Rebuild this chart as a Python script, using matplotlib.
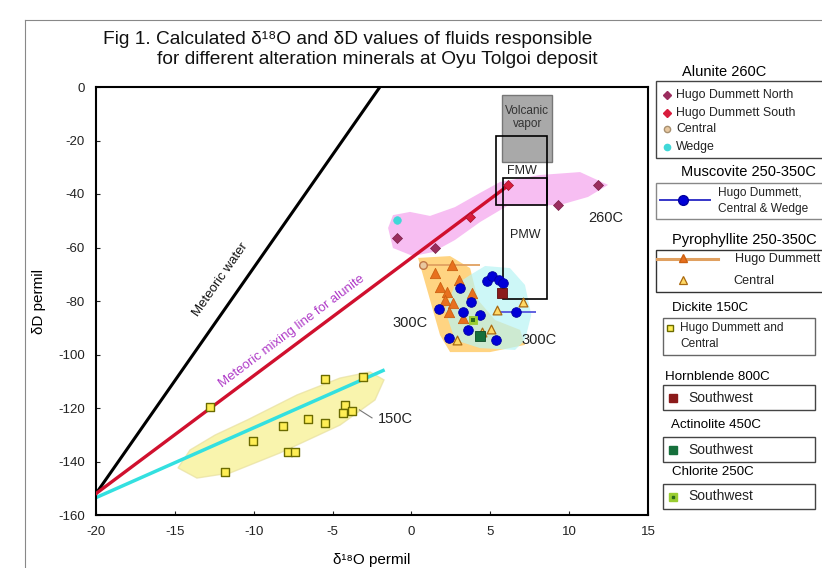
import matplotlib
matplotlib.use("Agg")
import matplotlib.pyplot as plt
from matplotlib.patches import Polygon, Rectangle

plt.rcParams['font.family'] = ['Liberation Sans', 'DejaVu Sans']
plt.rcParams['axes.unicode_minus'] = False

# ---------------- data ----------------
xlim = (-20, 15)
ylim = (-160, 0)
xticks = [-20, -15, -10, -5, 0, 5, 10, 15]
yticks = [0, -20, -40, -60, -80, -100, -120, -140, -160]

mwl_x = [-20, -2.0]
mwl_y = [-152, 0]
mix_x = [-20, 6.1]
mix_y = [-152, -37]
cyan_x = [-20, -1.8]
cyan_y = [-153.5, -106]

# fields
alunite_field_x = [-1.48, -1.17, -0.09, 1.18, 2.76, 4.35, 5.62, 8.15, 10.69, 12.47, 11.2, 9.42, 6.06, 4.35, 2.76, 1.37, 0.10, -1.17]
alunite_field_y = [-52.7, -47.9, -46.7, -48.2, -44.9, -39.6, -35.5, -32.9, -31.8, -36.6, -41.1, -44.1, -44.5, -50.5, -57.2, -61.7, -63.2, -60.2]
dickite_field_x = [-14.8, -14.04, -12.45, -10.42, -7.25, -4.53, -2.63, -1.74, -2.31, -4.53, -8.33, -11.5, -13.6]
dickite_field_y = [-142.4, -135.7, -130.1, -124.5, -115.1, -108.8, -106.5, -109.5, -117.0, -126.4, -136.8, -144.3, -146.2]
pyro_field_x = [0.42, 2.45, 3.72, 4.22, 5.30, 6.89, 7.20, 4.98, 2.45, 1.81, 1.18]
pyro_field_y = [-63.9, -63.2, -67.7, -79.6, -87.1, -90.8, -96.4, -99.1, -99.1, -92.7, -79.6]
musc_field_x = [3.72, 4.67, 6.25, 7.20, 7.6, 7.2, 6.57, 4.35, 2.76, 2.13, 2.76]
musc_field_y = [-70.3, -66.9, -67.7, -74.0, -85.2, -94.6, -98.3, -97.6, -94.6, -83.4, -74.0]

# boxes: (x0, x1, y0, y1)
vapor_box = (5.75, 8.9, -3, -28)
fmw_box = (5.36, 8.6, -18.3, -44.1)
pmw_box = (5.81, 8.6, -34.0, -79.3)

# alunite points
al_north_x = [-0.91, 1.5, 9.3, 11.83]
al_north_y = [-56.4, -60.2, -44.1, -36.6]
al_south_x = [3.72, 6.13]
al_south_y = [-48.6, -36.6]
al_central_x = [0.74]
al_central_y = [-66.5]
al_wedge_x = [-0.91]
al_wedge_y = [-49.7]

# muscovite
musc_x = [4.79, 5.11, 5.55, 5.81, 3.08, 1.75, 3.27, 3.78, 4.35, 6.63, 3.59, 2.38, 5.36]
musc_y = [-72.5, -70.7, -72.1, -73.3, -75.1, -83.0, -84.1, -80.4, -85.2, -84.1, -90.8, -93.8, -94.6]
musc_err_x = [6.63]
musc_err_y = [-84.1]
musc_err = [1.3]

# pyrophyllite
pyro_hd_x = [1.5, 2.57, 1.81, 2.26, 3.02, 2.64, 3.84, 2.38, 2.1, 3.3]
pyro_hd_y = [-69.5, -66.5, -74.8, -76.6, -72.1, -80.7, -77.0, -84.1, -79.6, -86.5]
pyro_err_x = [2.57]
pyro_err_y = [-66.5]
pyro_err = [1.8]
pyro_c_x = [5.05, 5.43, 7.08, 2.89, 4.5]
pyro_c_y = [-90.5, -83.4, -80.4, -94.6, -91.5]

# dickite
dick_x = [-12.77, -5.48, -3.07, -4.21, -4.34, -3.77, -6.56, -5.48, -8.14, -10.04, -7.83, -7.4, -11.8]
dick_y = [-119.6, -109.2, -108.4, -118.9, -121.9, -121.1, -124.1, -125.6, -126.7, -132.3, -136.4, -136.4, -143.9]

# others
horn_x = [5.75]
horn_y = [-77.0]
act_x = [4.35]
act_y = [-93.1]
chl_x = [3.9]
chl_y = [-87.1]

# ---------------- figure ----------------
fig = plt.figure(figsize=(8.22, 5.68), dpi=100)
bg = fig.add_axes([0, 0, 1, 1])
bg.set_xlim(0, 822)
bg.set_ylim(568, 0)
bg.axis('off')

# outer frame lines
bg.plot([25, 822], [20, 20], color='#888888', lw=0.8)
bg.plot([25, 25], [20, 568], color='#888888', lw=0.8)

ax = fig.add_axes([96/822, 1-515/568, (648-96)/822, (515-87)/568])
ax.set_xlim(*xlim)
ax.set_ylim(*ylim)
ax.set_xticks(xticks)
ax.set_yticks(yticks)
ax.tick_params(direction='in', labelsize=9.5, length=3, colors='#222222', pad=8)
for s in ax.spines.values():
    s.set_linewidth(1.5)
ax.set_xlabel('δ¹⁸O permil', fontsize=11, labelpad=11)
ax.set_ylabel('δD permil', fontsize=11, labelpad=9)

# fields
ax.add_patch(Polygon(list(zip(alunite_field_x, alunite_field_y)), closed=True, fc='#f5a8ee', ec='none', alpha=0.75, zorder=1))
ax.add_patch(Polygon(list(zip(dickite_field_x, dickite_field_y)), closed=True, fc='#f7f08a', ec='#e8e0a0', alpha=0.7, zorder=1))
ax.add_patch(Polygon(list(zip(pyro_field_x, pyro_field_y)), closed=True, fc='#ffc24d', ec='none', alpha=0.7, zorder=1))
ax.add_patch(Polygon(list(zip(musc_field_x, musc_field_y)), closed=True, fc='#b8f4f4', ec='none', alpha=0.7, zorder=1.1))

# boxes
x0, x1, y0, y1 = vapor_box
ax.add_patch(Rectangle((x0, y1), x1-x0, y0-y1, fc='#a9a9a9', ec='#777777', lw=1, zorder=2))
for bx in (fmw_box, pmw_box):
    x0, x1, y0, y1 = bx
    ax.add_patch(Rectangle((x0, y1), x1-x0, y0-y1, fc='none', ec='black', lw=1.2, zorder=3))

ax.text(7.35, -11.5, 'Volcanic\nvapor', ha='center', va='center', fontsize=8.5, color='#333333', zorder=4, linespacing=1.1)
ax.text(7.0, -31.5, 'FMW', ha='center', va='center', fontsize=9, color='#222222', zorder=4)
ax.text(7.2, -55.5, 'PMW', ha='center', va='center', fontsize=9, color='#222222', zorder=4)

# lines
ax.plot(mwl_x, mwl_y, color='black', lw=2.2, zorder=2.5)
ax.plot(cyan_x, cyan_y, color='#33e0e0', lw=2.5, zorder=2.5)
ax.plot(mix_x, mix_y, color='#d0102e', lw=2.4, zorder=2.6)

ax.text(-12.1, -72, 'Meteoric water', rotation=55, ha='center', va='center', fontsize=9.5, color='#111111')
ax.text(-7.6, -91.5, 'Meteoric mixing line for alunite', rotation=37, ha='center', va='center', fontsize=9.5, color='#b03cc8')

# error bars
ax.errorbar(pyro_err_x, pyro_err_y, xerr=pyro_err, fmt='none', ecolor='#e0a060', elinewidth=1.3, capsize=0, zorder=4)
ax.errorbar(musc_err_x, musc_err_y, xerr=musc_err, fmt='none', ecolor='#5555dd', elinewidth=1.3, capsize=0, zorder=4)

# points
ax.scatter(dick_x, dick_y, marker='s', s=34, facecolor='#ffee55', edgecolor='#6b6b00', linewidth=1.0, zorder=5)
ax.scatter(pyro_hd_x, pyro_hd_y, marker='^', s=55, facecolor='#e8701e', edgecolor='#cc6010', linewidth=0.6, zorder=5)
ax.scatter(musc_x, musc_y, marker='o', s=48, facecolor='#0000d8', edgecolor='#0000a0', linewidth=0.6, zorder=6)
ax.scatter(pyro_c_x, pyro_c_y, marker='^', s=40, facecolor='#ffd966', edgecolor='#aa6a10', linewidth=0.9, zorder=6)
ax.scatter(horn_x, horn_y, marker='s', s=45, facecolor='#8b1a1a', edgecolor='#5a0f0f', linewidth=0.6, zorder=6)
ax.scatter(act_x, act_y, marker='s', s=45, facecolor='#16703c', edgecolor='#0c4a26', linewidth=0.6, zorder=6)
ax.scatter(chl_x, chl_y, marker='s', s=40, facecolor='#9acd32', edgecolor='#9acd32', linewidth=0.6, zorder=6)
ax.scatter(chl_x, chl_y, marker='s', s=8, facecolor='#2a6a1a', edgecolor='none', zorder=6.1)
ax.scatter(al_north_x, al_north_y, marker='D', s=26, facecolor='#9b2d5e', edgecolor='#7a2048', linewidth=0.5, zorder=6)
ax.scatter(al_south_x, al_south_y, marker='D', s=26, facecolor='#d81c3c', edgecolor='#a01028', linewidth=0.5, zorder=6)
ax.scatter(al_central_x, al_central_y, marker='o', s=30, facecolor='#e8c8a0', edgecolor='#c07848', linewidth=1.0, zorder=6)
ax.scatter(al_wedge_x, al_wedge_y, marker='o', s=30, facecolor='#40d8d8', edgecolor='#40d8d8', linewidth=0.5, zorder=6)

# temperature labels
tl = 10.5
ax.text(12.3, -49, '260C', ha='center', va='center', fontsize=tl, color='#222222')
ax.text(-0.1, -88.2, '300C', ha='center', va='center', fontsize=tl, color='#222222')
ax.text(8.1, -94.6, '300C', ha='center', va='center', fontsize=tl, color='#222222')
ax.text(-2.1, -124, '150C', ha='left', va='center', fontsize=tl, color='#222222')
ax.plot([-3.3, -2.5], [-120.7, -123.7], color='#777777', lw=0.8)

# title
fig.text(103/822, 1-40/568, 'Fig 1. Calculated δ¹⁸O and δD values of fluids responsible',
         fontsize=13.8, ha='left', va='center', color='#111111')
fig.text(157/822, 1-60/568, 'for different alteration minerals at Oyu Tolgoi deposit',
         fontsize=13.8, ha='left', va='center', color='#111111')

# ---------------- legend panel ----------------
tfs = 10.5
tfs2 = 9.6
efs = 8.9
def box(x0, y0, x1, y1, ec='#555555'):
    bg.add_patch(Rectangle((x0, y0), x1-x0, y1-y0, fc='white', ec=ec, lw=1.0))

bg.text(724, 72, 'Alunite 260C', ha='center', va='center', fontsize=tfs)
box(656, 81, 823, 158, ec='#444444')
leg_al = [('Hugo Dummett North', 'D', '#9b2d5e', '#9b2d5e', 95),
          ('Hugo Dummett South', 'D', '#d81c3c', '#d81c3c', 113),
          ('Central', 'o', '#e8c8a0', '#a89070', 129),
          ('Wedge', 'o', '#40d8d8', '#40d8d8', 147)]
for lab, m, fc, ec, y in leg_al:
    bg.plot([667], [y], marker=m, ms=4.5, mfc=fc, mec=ec, ls='none')
    bg.text(676, y, lab, ha='left', va='center', fontsize=efs, color='#222222')

bg.text(748, 172, 'Muscovite 250-350C', ha='center', va='center', fontsize=tfs)
box(656, 183, 823, 219, ec='#888888')
bg.plot([660, 710], [200, 200], color='#3535c8', lw=1.4)
bg.plot([683], [200], marker='o', ms=7, mfc='#0000d8', mec='#0000a0', ls='none')
bg.text(718, 193, 'Hugo Dummett,', ha='left', va='center', fontsize=8.6, color='#222222')
bg.text(718, 209, 'Central & Wedge', ha='left', va='center', fontsize=8.6, color='#222222')

bg.text(744, 240, 'Pyrophyllite 250-350C', ha='center', va='center', fontsize=tfs)
box(656, 250, 823, 292, ec='#333333')
bg.plot([657, 718], [259, 259], color='#e0a060', lw=2.2)
bg.plot([683], [258], marker='^', ms=6, mfc='#e8701e', mec='#cc6010', ls='none')
bg.text(735, 259, 'Hugo Dummett', ha='left', va='center', fontsize=9.1, color='#222222')
bg.plot([683], [280], marker='^', ms=6, mfc='#ffd966', mec='#aa6a10', mew=0.9, ls='none')
bg.text(733, 281, 'Central', ha='left', va='center', fontsize=9.1, color='#222222')

bg.text(710, 308, 'Dickite 150C', ha='center', va='center', fontsize=tfs2)
box(663, 318, 815, 355, ec='#666666')
bg.plot([670], [328], marker='s', ms=5, mfc='#ffee55', mec='#6b6b00', ls='none')
bg.text(680, 328, 'Hugo Dummett and', ha='left', va='center', fontsize=8.6, color='#222222')
bg.text(680, 344, 'Central', ha='left', va='center', fontsize=8.6, color='#222222')

legs = [('Hornblende 800C', 377, 385, '#8b1a1a', '#8b1a1a', None, 717),
        ('Actinolite 450C', 425, 437, '#16703c', '#16703c', None, 716),
        ('Chlorite 250C', 472, 484, '#9acd32', '#9acd32', '#2a6a1a', 713)]
for title, ty, by, fc, ec, inner, cx in legs:
    bg.text(cx, ty, title, ha='center', va='center', fontsize=tfs2)
    box(663, by, 815, by+25, ec='#444444')
    bg.plot([673], [by+12.5], marker='s', ms=6, mfc=fc, mec=ec, ls='none')
    if inner:
        bg.plot([673], [by+12.5], marker='s', ms=2, mfc=inner, mec=inner, ls='none')
    bg.text(688, by+12.5, 'Southwest', ha='left', va='center', fontsize=10, color='#222222')

fig.savefig('out.png', dpi=100)
